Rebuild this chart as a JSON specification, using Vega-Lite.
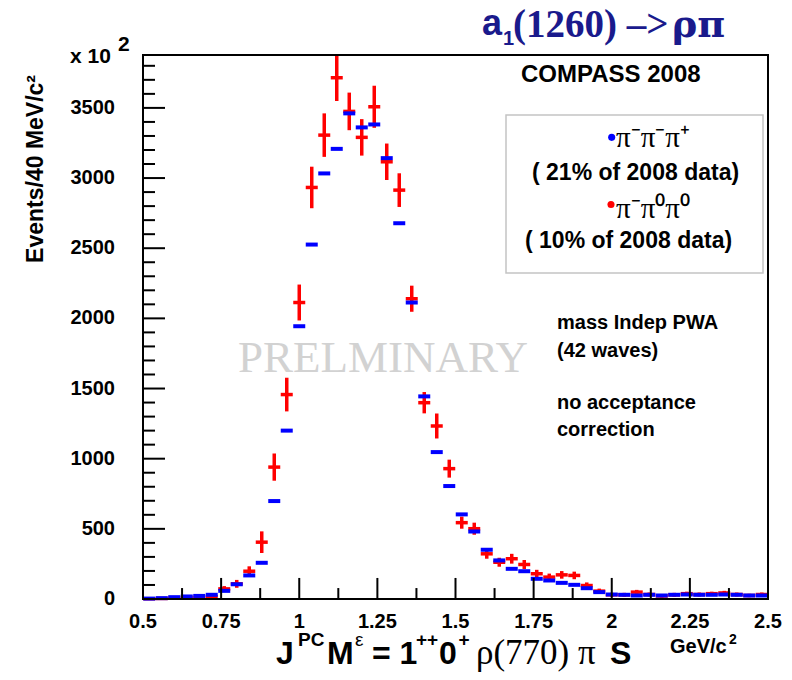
{
"$schema": "https://vega.github.io/schema/vega-lite/v6.json",
"width": 625, "height": 544,
"autosize": {"type": "none"},
"padding": {"left": 143, "top": 55, "right": 24, "bottom": 81},
"background": "white",
"config": {"view": {"stroke": "black", "strokeWidth": 2}, "axis": {"grid": false, "domain": false}, "scale": {"continuousPadding": 0}},
"datasets": {
"blue": [
{"m":0.52,"n":3},{"m":0.56,"n":6},{"m":0.60,"n":13},{"m":0.64,"n":18},{"m":0.68,"n":22},{"m":0.72,"n":30},{"m":0.76,"n":58},{"m":0.80,"n":105},{"m":0.84,"n":168},{"m":0.88,"n":258},
{"m":0.92,"n":698},{"m":0.96,"n":1200},{"m":1.00,"n":1944},{"m":1.04,"n":2526},{"m":1.08,"n":3033},{"m":1.12,"n":3208},{"m":1.16,"n":3461},{"m":1.20,"n":3361},{"m":1.24,"n":3382},{"m":1.28,"n":3142},
{"m":1.32,"n":2678},{"m":1.36,"n":2113},{"m":1.40,"n":1444},{"m":1.44,"n":1047},{"m":1.48,"n":805},{"m":1.52,"n":603},{"m":1.56,"n":481},{"m":1.60,"n":351},{"m":1.64,"n":275},{"m":1.68,"n":215},
{"m":1.72,"n":198},{"m":1.76,"n":144},{"m":1.80,"n":132},{"m":1.84,"n":115},{"m":1.88,"n":101},{"m":1.92,"n":77},{"m":1.96,"n":49},{"m":2.00,"n":32},{"m":2.04,"n":30},{"m":2.08,"n":25},
{"m":2.12,"n":30},{"m":2.16,"n":25},{"m":2.20,"n":30},{"m":2.24,"n":32},{"m":2.28,"n":30},{"m":2.32,"n":30},{"m":2.36,"n":32},{"m":2.40,"n":30},{"m":2.44,"n":25},{"m":2.48,"n":25}
],
"red": [
{"m":0.52,"n":2,"e":6},{"m":0.56,"n":4,"e":7},{"m":0.60,"n":7,"e":8},{"m":0.64,"n":10,"e":9},{"m":0.68,"n":12,"e":10},{"m":0.72,"n":16,"e":12},{"m":0.76,"n":72,"e":20},{"m":0.80,"n":108,"e":28},{"m":0.84,"n":198,"e":35},{"m":0.88,"n":405,"e":77},
{"m":0.92,"n":940,"e":97},{"m":0.96,"n":1457,"e":120},{"m":1.00,"n":2113,"e":128},{"m":1.04,"n":2933,"e":148},{"m":1.08,"n":3306,"e":155},{"m":1.12,"n":3715,"e":166},{"m":1.16,"n":3475,"e":134},{"m":1.20,"n":3290,"e":130},{"m":1.24,"n":3508,"e":150},{"m":1.28,"n":3116,"e":130},
{"m":1.32,"n":2914,"e":120},{"m":1.36,"n":2140,"e":93},{"m":1.40,"n":1399,"e":76},{"m":1.44,"n":1233,"e":89},{"m":1.48,"n":929,"e":64},{"m":1.52,"n":544,"e":43},{"m":1.56,"n":501,"e":43},{"m":1.60,"n":322,"e":35},{"m":1.64,"n":262,"e":32},{"m":1.68,"n":287,"e":35},
{"m":1.72,"n":246,"e":32},{"m":1.76,"n":180,"e":28},{"m":1.80,"n":156,"e":25},{"m":1.84,"n":172,"e":27},{"m":1.88,"n":168,"e":27},{"m":1.92,"n":96,"e":22},{"m":1.96,"n":56,"e":18},{"m":2.00,"n":30,"e":14},{"m":2.04,"n":30,"e":14},{"m":2.08,"n":49,"e":16},
{"m":2.12,"n":32,"e":14},{"m":2.16,"n":22,"e":12},{"m":2.20,"n":30,"e":14},{"m":2.24,"n":38,"e":14},{"m":2.28,"n":32,"e":14},{"m":2.32,"n":38,"e":14},{"m":2.36,"n":43,"e":15},{"m":2.40,"n":32,"e":14},{"m":2.44,"n":25,"e":12},{"m":2.48,"n":32,"e":14}
],
"xlab": [{"v":0.5},{"v":0.75},{"v":1},{"v":1.25},{"v":1.5},{"v":1.75},{"v":2},{"v":2.25},{"v":2.5}],
"ylab": [{"v":0},{"v":500},{"v":1000},{"v":1500},{"v":2000},{"v":2500},{"v":3000},{"v":3500}],
"xmajor": [{"t":0.75},{"t":1},{"t":1.25},{"t":1.5},{"t":1.75},{"t":2},{"t":2.25}],
"xminor": [{"t":0.625},{"t":0.875},{"t":1.125},{"t":1.375},{"t":1.625},{"t":1.875},{"t":2.125},{"t":2.375}],
"ymajor": [{"t":500},{"t":1000},{"t":1500},{"t":2000},{"t":2500},{"t":3000},{"t":3500}],
"yminor": [{"t":100},{"t":200},{"t":300},{"t":400},{"t":600},{"t":700},{"t":800},{"t":900},{"t":1100},{"t":1200},{"t":1300},{"t":1400},{"t":1600},{"t":1700},{"t":1800},{"t":1900},{"t":2100},{"t":2200},{"t":2300},{"t":2400},{"t":2600},{"t":2700},{"t":2800},{"t":2900},{"t":3100},{"t":3200},{"t":3300},{"t":3400},{"t":3600},{"t":3700},{"t":3800}]
},
"layer": [
{"data": {"name": "red"},
 "mark": {"type": "errorbar", "color": "#ff0000", "thickness": 3.5},
 "encoding": {
  "x": {"field": "m", "type": "quantitative", "scale": {"domain": [0.5, 2.5], "nice": false, "zero": false, "padding": 0}, "axis": null},
  "y": {"field": "n", "type": "quantitative", "scale": {"domain": [0, 3877], "nice": false, "zero": false, "padding": 0}, "axis": null},
  "yError": {"field": "e"}
 }},
{"data": {"name": "red"},
 "mark": {"type": "tick", "orient": "horizontal", "color": "#ff0000", "size": 12, "thickness": 3.5, "opacity": 1},
 "encoding": {
  "x": {"field": "m", "type": "quantitative", "axis": null},
  "y": {"field": "n", "type": "quantitative", "axis": null}
 }},
{"data": {"name": "blue"},
 "mark": {"type": "tick", "orient": "horizontal", "color": "#0000ff", "size": 12, "thickness": 4, "opacity": 1},
 "encoding": {
  "x": {"field": "m", "type": "quantitative", "axis": null},
  "y": {"field": "n", "type": "quantitative", "axis": null}
 }},
{"data": {"name": "xlab"},
 "mark": {"type": "text", "font": "Liberation Sans", "fontWeight": "bold", "fontSize": 20, "align": "center", "baseline": "top", "color": "black"},
 "encoding": {"x": {"field": "v", "type": "quantitative", "axis": null}, "y": {"datum": -92, "type": "quantitative", "axis": null}, "text": {"field": "v", "type": "quantitative", "format": ".4~g"}}},
{"data": {"name": "ylab"},
 "mark": {"type": "text", "font": "Liberation Sans", "fontWeight": "bold", "fontSize": 20, "align": "right", "baseline": "middle", "color": "black"},
 "encoding": {"y": {"field": "v", "type": "quantitative", "axis": null}, "x": {"datum": 0.4104, "type": "quantitative", "axis": null}, "text": {"field": "v", "type": "quantitative", "format": ".4~g"}}},
{"data": {"values": [{}]},
 "mark": {"type": "rect", "fill": "white", "fillOpacity": 0, "stroke": "#c4c4c4", "strokeWidth": 1.5},
 "encoding": {"x": {"datum": 1.6616, "type": "quantitative", "axis": null}, "x2": {"datum": 2.484}, "y": {"datum": 3449, "type": "quantitative", "axis": null}, "y2": {"datum": 2323}}},
{"data": {"values": [{}]},
 "mark": {"type": "point", "filled": true, "color": "#0000ff", "size": 50, "opacity": 1},
 "encoding": {"x": {"datum": 1.9998, "type": "quantitative", "axis": null}, "y": {"datum": 3290, "type": "quantitative", "axis": null}}},
{"data": {"values": [{}]},
 "mark": {"type": "point", "filled": true, "color": "#ff0000", "size": 50, "opacity": 1},
 "encoding": {"x": {"datum": 1.9976, "type": "quantitative", "axis": null}, "y": {"datum": 2812, "type": "quantitative", "axis": null}}},
{"data": {"values": [{}]},
 "mark": {"type": "text", "text": "π⁻π⁻π⁺", "font": "Liberation Serif", "fontSize": 29, "align": "left", "baseline": "alphabetic", "color": "black"},
 "encoding": {"x": {"datum": 2.0136, "type": "quantitative", "axis": null}, "y": {"datum": 3221, "type": "quantitative", "axis": null}}},
{"data": {"values": [{}]},
 "mark": {"type": "text", "text": "π⁻π⁰π⁰", "font": "Liberation Serif", "fontSize": 29, "align": "left", "baseline": "alphabetic", "color": "black"},
 "encoding": {"x": {"datum": 2.0136, "type": "quantitative", "axis": null}, "y": {"datum": 2715, "type": "quantitative", "axis": null}}},
{"data": {"values": [{}]},
 "mark": {"type": "text", "text": "( 21% of 2008 data)", "font": "Liberation Sans", "fontWeight": "bold", "fontSize": 23, "align": "left", "baseline": "alphabetic", "color": "black"},
 "encoding": {"x": {"datum": 1.7448, "type": "quantitative", "axis": null}, "y": {"datum": 2986, "type": "quantitative", "axis": null}}},
{"data": {"values": [{}]},
 "mark": {"type": "text", "text": "( 10% of 2008 data)", "font": "Liberation Sans", "fontWeight": "bold", "fontSize": 23, "align": "left", "baseline": "alphabetic", "color": "black"},
 "encoding": {"x": {"datum": 1.7224, "type": "quantitative", "axis": null}, "y": {"datum": 2502, "type": "quantitative", "axis": null}}},
{"data": {"values": [{}]},
 "mark": {"type": "text", "text": "COMPASS 2008", "font": "Liberation Sans", "fontWeight": "bold", "fontSize": 24, "align": "left", "baseline": "alphabetic", "color": "black"},
 "encoding": {"x": {"datum": 1.7096, "type": "quantitative", "axis": null}, "y": {"datum": 3685, "type": "quantitative", "axis": null}}},
{"data": {"values": [{}]},
 "mark": {"type": "text", "text": "mass Indep PWA", "font": "Liberation Sans", "fontWeight": "bold", "fontSize": 20, "align": "left", "baseline": "alphabetic", "color": "black"},
 "encoding": {"x": {"datum": 1.8248, "type": "quantitative", "axis": null}, "y": {"datum": 1924, "type": "quantitative", "axis": null}}},
{"data": {"values": [{}]},
 "mark": {"type": "text", "text": "(42 waves)", "font": "Liberation Sans", "fontWeight": "bold", "fontSize": 20, "align": "left", "baseline": "alphabetic", "color": "black"},
 "encoding": {"x": {"datum": 1.8248, "type": "quantitative", "axis": null}, "y": {"datum": 1725, "type": "quantitative", "axis": null}}},
{"data": {"values": [{}]},
 "mark": {"type": "text", "text": "no acceptance", "font": "Liberation Sans", "fontWeight": "bold", "fontSize": 20, "align": "left", "baseline": "alphabetic", "color": "black"},
 "encoding": {"x": {"datum": 1.8248, "type": "quantitative", "axis": null}, "y": {"datum": 1354, "type": "quantitative", "axis": null}}},
{"data": {"values": [{}]},
 "mark": {"type": "text", "text": "correction", "font": "Liberation Sans", "fontWeight": "bold", "fontSize": 20, "align": "left", "baseline": "alphabetic", "color": "black"},
 "encoding": {"x": {"datum": 1.8248, "type": "quantitative", "axis": null}, "y": {"datum": 1162, "type": "quantitative", "axis": null}}},
{"data": {"values": [{}]},
 "mark": {"type": "text", "text": "PRELMINARY", "font": "Liberation Serif", "fontSize": 45, "align": "left", "baseline": "alphabetic", "color": "#d2d2d2"},
 "encoding": {"x": {"datum": 0.804, "type": "quantitative", "axis": null}, "y": {"datum": 1618, "type": "quantitative", "axis": null}}},
{"data": {"values": [{}]},
 "mark": {"type": "text", "text": "Events/40 MeV/c²", "font": "Liberation Sans", "fontWeight": "bold", "fontSize": 23, "align": "center", "baseline": "middle", "angle": 270, "color": "black"},
 "encoding": {"x": {"datum": 0.1576, "type": "quantitative", "axis": null}, "y": {"datum": 3065, "type": "quantitative", "axis": null}}},
{"data": {"values": [{}]},
 "mark": {"type": "text", "text": "x 10", "font": "Liberation Sans", "fontWeight": "bold", "fontSize": 21, "align": "left", "baseline": "alphabetic", "color": "black"},
 "encoding": {"x": {"datum": 0.2664, "type": "quantitative", "axis": null}, "y": {"datum": 3820, "type": "quantitative", "axis": null}}},
{"data": {"values": [{}]},
 "mark": {"type": "text", "text": "2", "font": "Liberation Sans", "fontWeight": "bold", "fontSize": 21, "align": "left", "baseline": "alphabetic", "color": "black"},
 "encoding": {"x": {"datum": 0.42, "type": "quantitative", "axis": null}, "y": {"datum": 3906, "type": "quantitative", "axis": null}}},
{"data": {"values": [{}]},
 "mark": {"type": "text", "text": "GeV/c", "font": "Liberation Sans", "fontWeight": "bold", "fontSize": 20, "align": "left", "baseline": "alphabetic", "color": "black"},
 "encoding": {"x": {"datum": 2.1864, "type": "quantitative", "axis": null}, "y": {"datum": -385, "type": "quantitative", "axis": null}}},
{"data": {"values": [{}]},
 "mark": {"type": "text", "text": "2", "font": "Liberation Sans", "fontWeight": "bold", "fontSize": 14, "align": "left", "baseline": "alphabetic", "color": "black"},
 "encoding": {"x": {"datum": 2.3752, "type": "quantitative", "axis": null}, "y": {"datum": -321, "type": "quantitative", "axis": null}}},
{"data": {"values": [{}]},
 "mark": {"type": "text", "text": "a", "font": "Liberation Sans", "fontWeight": "bold", "fontSize": 36, "align": "left", "baseline": "alphabetic", "color": "#1a1a8c"},
 "encoding": {"x": {"datum": 1.5848, "type": "quantitative", "axis": null}, "y": {"datum": 4020, "type": "quantitative", "axis": null}}},
{"data": {"values": [{}]},
 "mark": {"type": "text", "text": "1", "font": "Liberation Sans", "fontWeight": "bold", "fontSize": 20, "align": "left", "baseline": "alphabetic", "color": "#1a1a8c"},
 "encoding": {"x": {"datum": 1.652, "type": "quantitative", "axis": null}, "y": {"datum": 3948, "type": "quantitative", "axis": null}}},
{"data": {"values": [{}]},
 "mark": {"type": "text", "text": "(1260) –>", "font": "Liberation Serif", "fontWeight": "bold", "fontSize": 39, "align": "left", "baseline": "alphabetic", "color": "#1a1a8c"},
 "encoding": {"x": {"datum": 1.684, "type": "quantitative", "axis": null}, "y": {"datum": 4005, "type": "quantitative", "axis": null}}},
{"data": {"values": [{}]},
 "mark": {"type": "text", "text": "ρπ", "font": "DejaVu Serif", "fontWeight": "bold", "fontSize": 38, "align": "left", "baseline": "alphabetic", "color": "#1a1a8c"},
 "encoding": {"x": {"datum": 2.1928, "type": "quantitative", "axis": null}, "y": {"datum": 4005, "type": "quantitative", "axis": null}}},
{"data": {"values": [{}]},
 "mark": {"type": "text", "text": "J", "font": "Liberation Sans", "fontWeight": "bold", "fontSize": 32, "align": "left", "baseline": "alphabetic", "color": "black"},
 "encoding": {"x": {"datum": 0.9256, "type": "quantitative", "axis": null}, "y": {"datum": -463, "type": "quantitative", "axis": null}}},
{"data": {"values": [{}]},
 "mark": {"type": "text", "text": "PC", "font": "Liberation Sans", "fontWeight": "bold", "fontSize": 19, "align": "left", "baseline": "alphabetic", "color": "black"},
 "encoding": {"x": {"datum": 0.996, "type": "quantitative", "axis": null}, "y": {"datum": -335, "type": "quantitative", "axis": null}}},
{"data": {"values": [{}]},
 "mark": {"type": "text", "text": "M", "font": "Liberation Sans", "fontWeight": "bold", "fontSize": 32, "align": "left", "baseline": "alphabetic", "color": "black"},
 "encoding": {"x": {"datum": 1.0888, "type": "quantitative", "axis": null}, "y": {"datum": -463, "type": "quantitative", "axis": null}}},
{"data": {"values": [{}]},
 "mark": {"type": "text", "text": "ε", "font": "Liberation Sans", "fontSize": 19, "align": "left", "baseline": "alphabetic", "color": "black"},
 "encoding": {"x": {"datum": 1.1784, "type": "quantitative", "axis": null}, "y": {"datum": -335, "type": "quantitative", "axis": null}}},
{"data": {"values": [{}]},
 "mark": {"type": "text", "text": "= 1", "font": "Liberation Sans", "fontWeight": "bold", "fontSize": 32, "align": "left", "baseline": "alphabetic", "color": "black"},
 "encoding": {"x": {"datum": 1.2328, "type": "quantitative", "axis": null}, "y": {"datum": -463, "type": "quantitative", "axis": null}}},
{"data": {"values": [{}]},
 "mark": {"type": "text", "text": "++", "font": "Liberation Sans", "fontWeight": "bold", "fontSize": 19, "align": "left", "baseline": "alphabetic", "color": "black"},
 "encoding": {"x": {"datum": 1.3736, "type": "quantitative", "axis": null}, "y": {"datum": -335, "type": "quantitative", "axis": null}}},
{"data": {"values": [{}]},
 "mark": {"type": "text", "text": "0", "font": "Liberation Sans", "fontWeight": "bold", "fontSize": 32, "align": "left", "baseline": "alphabetic", "color": "black"},
 "encoding": {"x": {"datum": 1.4472, "type": "quantitative", "axis": null}, "y": {"datum": -463, "type": "quantitative", "axis": null}}},
{"data": {"values": [{}]},
 "mark": {"type": "text", "text": "+", "font": "Liberation Sans", "fontWeight": "bold", "fontSize": 19, "align": "left", "baseline": "alphabetic", "color": "black"},
 "encoding": {"x": {"datum": 1.5096, "type": "quantitative", "axis": null}, "y": {"datum": -335, "type": "quantitative", "axis": null}}},
{"data": {"values": [{}]},
 "mark": {"type": "text", "text": "ρ(770) π", "font": "Liberation Serif", "fontSize": 35, "align": "left", "baseline": "alphabetic", "color": "black"},
 "encoding": {"x": {"datum": 1.5656, "type": "quantitative", "axis": null}, "y": {"datum": -463, "type": "quantitative", "axis": null}}},
{"data": {"values": [{}]},
 "mark": {"type": "text", "text": "S", "font": "Liberation Sans", "fontWeight": "bold", "fontSize": 32, "align": "left", "baseline": "alphabetic", "color": "black"},
 "encoding": {"x": {"datum": 1.9944, "type": "quantitative", "axis": null}, "y": {"datum": -463, "type": "quantitative", "axis": null}}},
{"data": {"name": "xmajor"},
 "mark": {"type": "bar", "color": "black", "size": 2, "orient": "vertical"},
 "encoding": {"x": {"field": "t", "type": "quantitative", "axis": null}, "y": {"datum": 0, "type": "quantitative", "axis": null}, "y2": {"datum": 150}}},
{"data": {"name": "xminor"},
 "mark": {"type": "bar", "color": "black", "size": 2, "orient": "vertical"},
 "encoding": {"x": {"field": "t", "type": "quantitative", "axis": null}, "y": {"datum": 0, "type": "quantitative", "axis": null}, "y2": {"datum": 78}}},
{"data": {"name": "ymajor"},
 "mark": {"type": "bar", "color": "black", "size": 2, "orient": "horizontal"},
 "encoding": {"y": {"field": "t", "type": "quantitative", "axis": null}, "x": {"datum": 0.5, "type": "quantitative", "axis": null}, "x2": {"datum": 0.5704}}},
{"data": {"name": "yminor"},
 "mark": {"type": "bar", "color": "black", "size": 2, "orient": "horizontal"},
 "encoding": {"y": {"field": "t", "type": "quantitative", "axis": null}, "x": {"datum": 0.5, "type": "quantitative", "axis": null}, "x2": {"datum": 0.5384}}},
{"data": {"values": [{}]},
 "mark": {"type": "rect", "fill": "white", "fillOpacity": 0, "stroke": "black", "strokeWidth": 2},
 "encoding": {"x": {"datum": 0.5, "type": "quantitative", "axis": null}, "x2": {"datum": 2.5}, "y": {"datum": 0, "type": "quantitative", "axis": null}, "y2": {"datum": 3877}}}
]
}
